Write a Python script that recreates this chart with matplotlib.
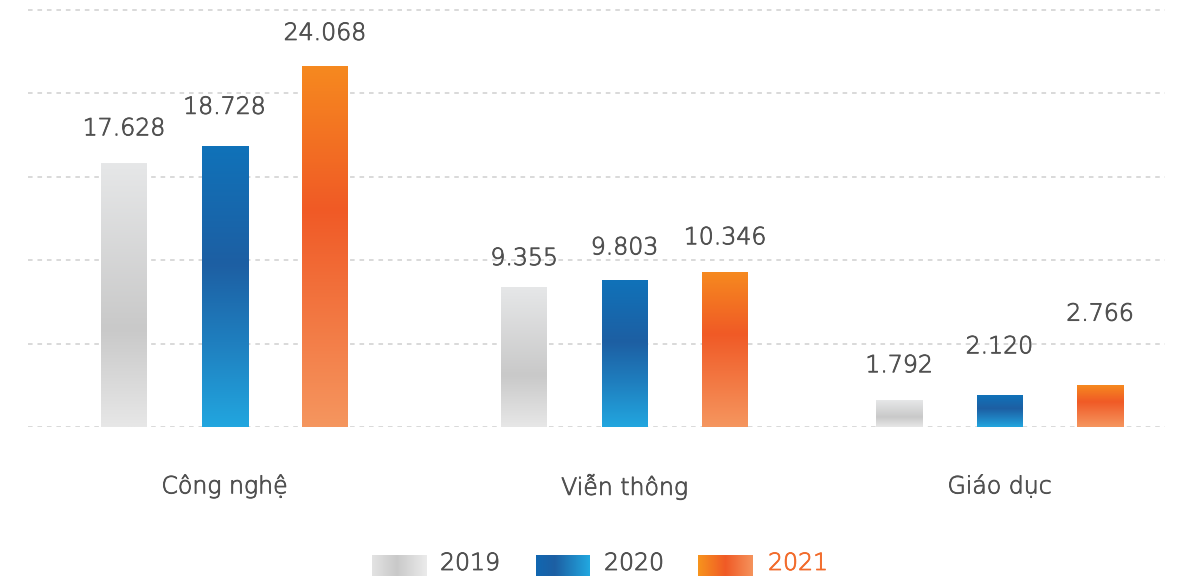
import numpy as np
import matplotlib
matplotlib.use("Agg")
import matplotlib.pyplot as plt
import matplotlib.patheffects as pe
from matplotlib.colors import LinearSegmentedColormap

# ---- data ----
categories = ["Công nghệ", "Viễn thông", "Giáo dục"]
years = ["2019", "2020", "2021"]
values_2019 = [17.628, 9.355, 1.792]
values_2020 = [18.728, 9.803, 2.120]
values_2021 = [24.068, 10.346, 2.766]
label_texts_2019 = ["17.628", "9.355", "1.792"]
label_texts_2020 = ["18.728", "9.803", "2.120"]
label_texts_2021 = ["24.068", "10.346", "2.766"]

series = [values_2019, values_2020, values_2021]
label_texts = [label_texts_2019, label_texts_2020, label_texts_2021]

# vertical gap (pixels) between each bar top and the centre of its value label
label_gaps = [[35, 29, 35], [40, 33, 49], [34, 35, 72]]

# ---- styling ----
plt.rcParams["font.family"] = ["DejaVu Sans"]
FONT_W = "light"
FS = 17
TEXT = "#505050"
ORANGE_TEXT = "#f26b2b"
GRID = "#cfcfcf"


def thicken(color):
    return [pe.withStroke(linewidth=0.6, foreground=color)]


cmaps = [
    LinearSegmentedColormap.from_list(
        "g19", [(0, "#e6e7e8"), (0.63, "#c9c9c9"), (1, "#e7e7e7")]),
    LinearSegmentedColormap.from_list(
        "g20", [(0, "#1072b9"), (0.42, "#1d5fa3"), (0.7, "#1f7fbf"), (1, "#22a6df")]),
    LinearSegmentedColormap.from_list(
        "g21", [(0, "#f6891f"), (0.4, "#f05a26"), (1, "#f5965f")]),
]
legend_cmaps = [
    LinearSegmentedColormap.from_list(
        "l19", [(0, "#e3e3e3"), (0.45, "#c9c9c9"), (1, "#ebebeb")]),
    LinearSegmentedColormap.from_list(
        "l20", [(0, "#1167b1"), (0.35, "#1d5fa3"), (1, "#22a8e0")]),
    LinearSegmentedColormap.from_list(
        "l21", [(0, "#f7941d"), (0.5, "#f05a26"), (1, "#f5935c")]),
]

W, H, DPI = 1179, 576, 100
fig = plt.figure(figsize=(W / DPI, H / DPI), dpi=DPI)

# plotting area in pixels: x 28..1165, baseline at y=427 (from top), top at y=0
ax_left, ax_right = 28, 1165
base_y, top_y = 427, 0
ax = fig.add_axes([ax_left / W, (H - base_y) / H,
                   (ax_right - ax_left) / W, (base_y - top_y) / H])

px_per_unit = 14.96
ymax = (base_y - top_y) / px_per_unit
grid_top = (base_y - 10) / px_per_unit

group_x = np.array([2.245, 6.245, 9.995]) - ax_left / 100
offsets = [-1.005, 0.0, 1.005]
bar_w = 0.46
xmax = (ax_right - ax_left) / 100

# dashed horizontal grid lines
for lv in np.linspace(0, grid_top, 6):
    ax.axhline(lv, color=GRID, lw=1.1, ls=(0, (3, 3.2)), zorder=1)

grad = np.linspace(0, 1, 256).reshape(-1, 1)
for s, (vals, cmap, texts) in enumerate(zip(series, cmaps, label_texts)):
    xs = group_x + offsets[s]
    bars = ax.bar(xs, vals, width=bar_w, color="none", zorder=2)
    for i, (rect, t) in enumerate(zip(bars, texts)):
        x0, w, h = rect.get_x(), rect.get_width(), rect.get_height()
        ax.imshow(grad, extent=(x0, x0 + w, 0, h), origin="upper",
                  cmap=cmap, aspect="auto", zorder=3, interpolation="bilinear")
        ax.annotate(t, (x0 + w / 2, h), xytext=(0, label_gaps[s][i] * 0.72),
                    textcoords="offset points", ha="center", va="center",
                    fontsize=FS, fontweight=FONT_W, color=TEXT, zorder=4,
                    path_effects=thicken(TEXT))

ax.set_xlim(0.0, xmax)
ax.set_ylim(0, ymax)
ax.set_xticks(group_x)
ax.set_xticklabels(categories, fontweight=FONT_W)
for lbl in ax.get_xticklabels():
    lbl.set_path_effects(thicken(TEXT))
ax.tick_params(axis="x", length=0, pad=33, labelsize=FS, labelcolor=TEXT)
ax.set_yticks([])
for sp in ax.spines.values():
    sp.set_visible(False)

# legend: gradient swatches + year labels along the bottom
legend_items = [(372, 427, 440), (536, 590, 604), (698, 753, 768)]
hgrad = np.linspace(0, 1, 256).reshape(1, -1)
for (x0, x1, tx), cmap, yr, col in zip(legend_items, legend_cmaps, years,
                                       [TEXT, TEXT, ORANGE_TEXT]):
    lax = fig.add_axes([x0 / W, 0, (x1 - x0) / W, (H - 555) / H])
    lax.imshow(hgrad, cmap=cmap, aspect="auto", interpolation="bilinear")
    lax.axis("off")
    fig.text(tx / W, (H - 563) / H, yr, ha="left", va="center",
             fontsize=FS, fontweight=FONT_W, color=col,
             path_effects=thicken(col))

fig.savefig("out.png", dpi=DPI)
